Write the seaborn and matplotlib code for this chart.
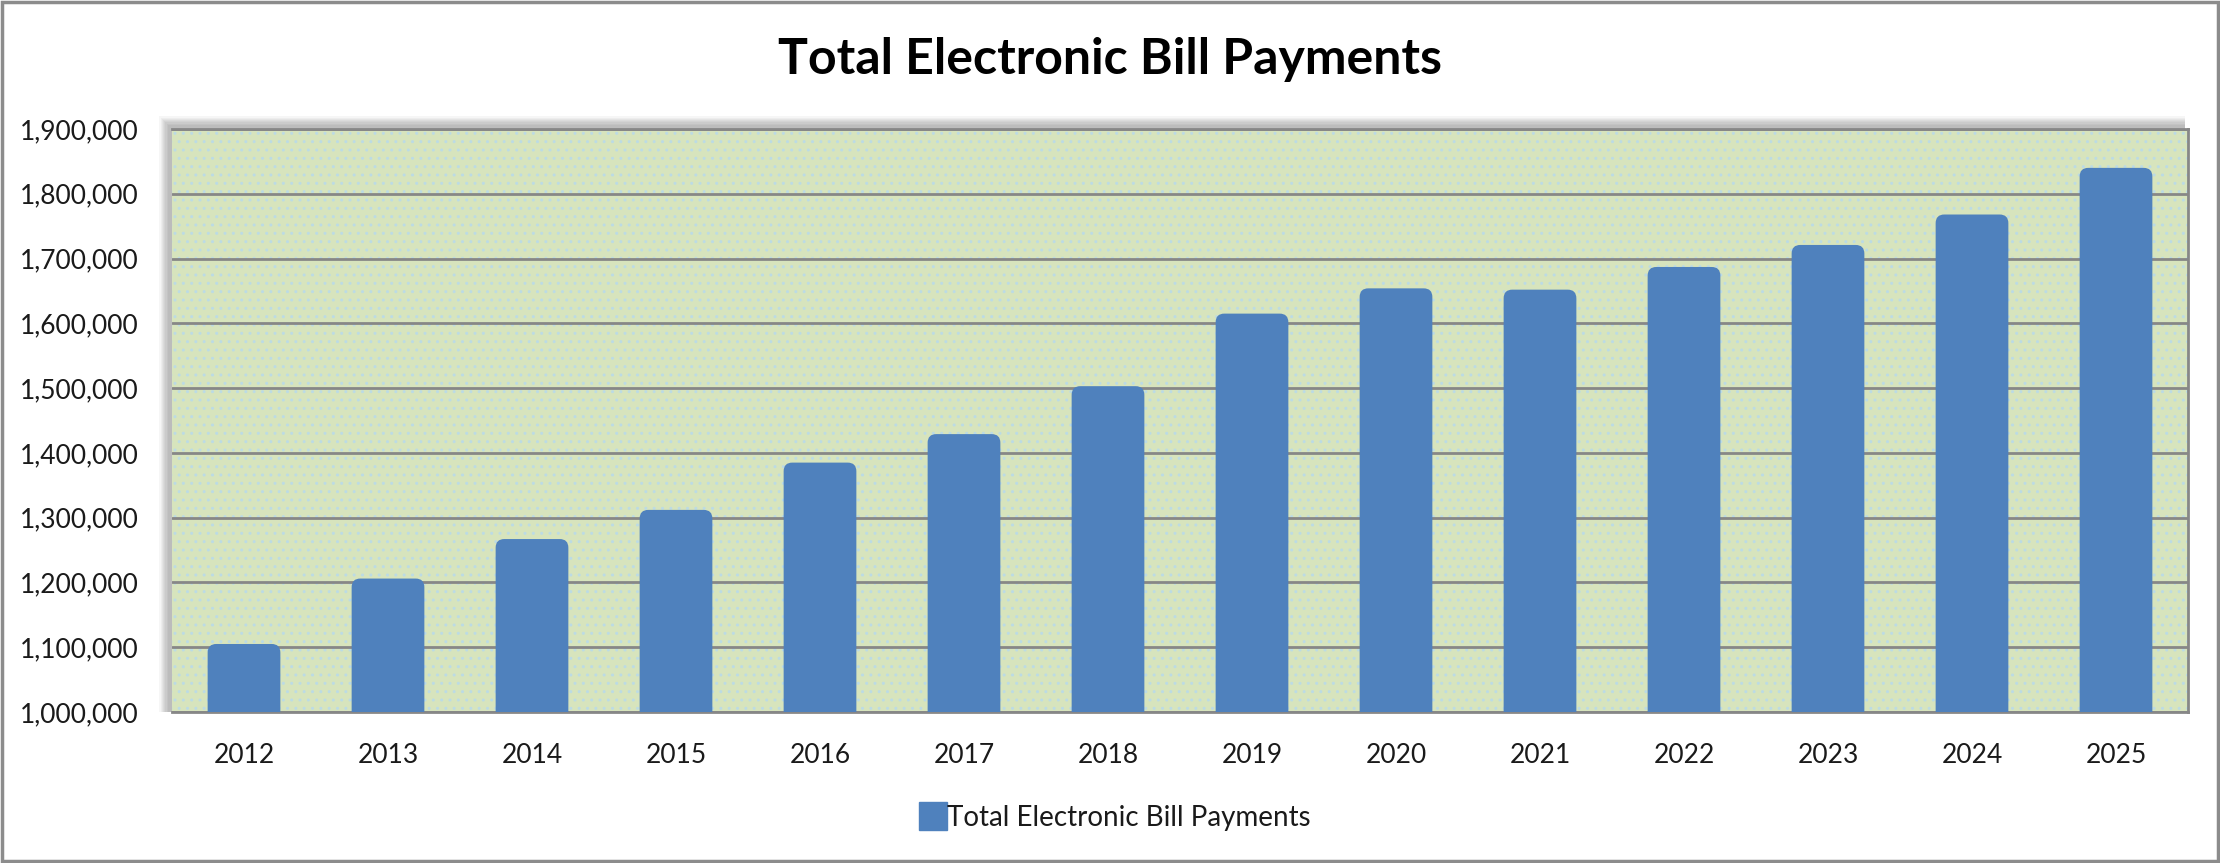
import matplotlib
matplotlib.use("Agg")
import matplotlib.pyplot as plt
import seaborn as sns
import pandas as pd
from matplotlib.patches import FancyBboxPatch, Rectangle
from matplotlib.lines import Line2D
from matplotlib.ticker import FuncFormatter

# ---- data ----
years = ["2012", "2013", "2014", "2015", "2016", "2017", "2018",
         "2019", "2020", "2021", "2022", "2023", "2024", "2025"]
payments = [1105000, 1206000, 1267000, 1312000, 1385000, 1429000, 1503000,
            1615000, 1654000, 1652000, 1687000, 1721000, 1768000, 1840000]
series_name = "Total Electronic Bill Payments"
title = "Total Electronic Bill Payments"
y_ticks = [1000000, 1100000, 1200000, 1300000, 1400000, 1500000,
           1600000, 1700000, 1800000, 1900000]

df = pd.DataFrame({"year": years, "value": payments})

sns.set_style("white")
plt.rcParams["font.family"] = ["Lato", "DejaVu Sans"]

W, H = 2220, 863
fig = plt.figure(figsize=(W / 100, H / 100), dpi=100)
fig.patch.set_facecolor("white")

L, R, T, B = 172, 2188, 129, 712
ax = fig.add_axes([L / W, 1 - B / H, (R - L) / W, (B - T) / H])

# soft shadow (top-left) behind plot area
for i in range(8, 0, -1):
    off = i * 1.2
    fig.patches.append(Rectangle(((L - off - 3) / W, 1 - B / H),
                                 (R - L + off) / W, (B - T + off + 3) / H,
                                 transform=fig.transFigure, facecolor="black",
                                 alpha=0.035, edgecolor="none", zorder=0))

ax.set_facecolor("#D7E4BD")
ax.set_zorder(2)

bar_color = "#4F81BD"
sns.barplot(data=df, x="year", y="value", color=bar_color, width=0.505,
            saturation=1, ax=ax, zorder=3, edgecolor="none")

ax.set_xlim(-0.5, len(years) - 0.5)
ax.set_ylim(1000000, 1900000)

# rounded bar tops (geometry taken from seaborn's bars)
px_x = len(years) / (R - L)
px_y = 900000 / (B - T)
aspect = px_y / px_x
bars = [p for p in ax.patches if isinstance(p, Rectangle)]
for p in bars:
    x, y, w, h = p.get_x(), p.get_y(), p.get_width(), p.get_height()
    p.remove()
    ax.add_patch(FancyBboxPatch((x, y), w, h,
                                boxstyle="round,pad=0,rounding_size=0.06",
                                mutation_aspect=aspect, facecolor=bar_color,
                                edgecolor="none", zorder=3))

# dotted background texture
ax.add_patch(Rectangle((0, 0), 1, 1, transform=ax.transAxes, facecolor="none",
                       hatch="..", edgecolor="#BCDBE4", linewidth=0, zorder=0.5))

ax.set_yticks(y_ticks)
ax.yaxis.set_major_formatter(FuncFormatter(lambda v, _: f"{int(v):,}"))
ax.grid(axis="y", color="#878787", linewidth=2.0, zorder=1)
ax.set_axisbelow(True)
ax.tick_params(axis="both", length=0, labelsize=19, colors="#1A1A1A")
ax.tick_params(axis="y", pad=24)
ax.tick_params(axis="x", pad=22)
ax.set_xlabel("")
ax.set_ylabel("")

for s in ["top", "right", "bottom"]:
    ax.spines[s].set_visible(True)
    ax.spines[s].set_color("#878787")
    ax.spines[s].set_linewidth(2.0)
ax.spines["left"].set_visible(False)

# title
fig.text(0.5, 1 - 60 / H, title, ha="center", va="center",
         fontsize=36, fontweight="bold", color="black")

# legend
handle = Line2D([], [], marker="s", linestyle="none", markersize=20,
                markerfacecolor=bar_color, markeredgecolor=bar_color)
fig.legend([handle], [series_name], loc="center", bbox_to_anchor=(0.502, 1 - 818 / H),
           frameon=False, fontsize=20, handletextpad=0.0, handlelength=1.0,
           labelcolor="#1A1A1A")

# outer border
fig.patches.append(Rectangle((0.0008, 0.002), 0.9984, 0.996, transform=fig.transFigure,
                             facecolor="none", edgecolor="#8C8C8C", linewidth=2.5, zorder=10))

fig.savefig("out.png", dpi=100)
